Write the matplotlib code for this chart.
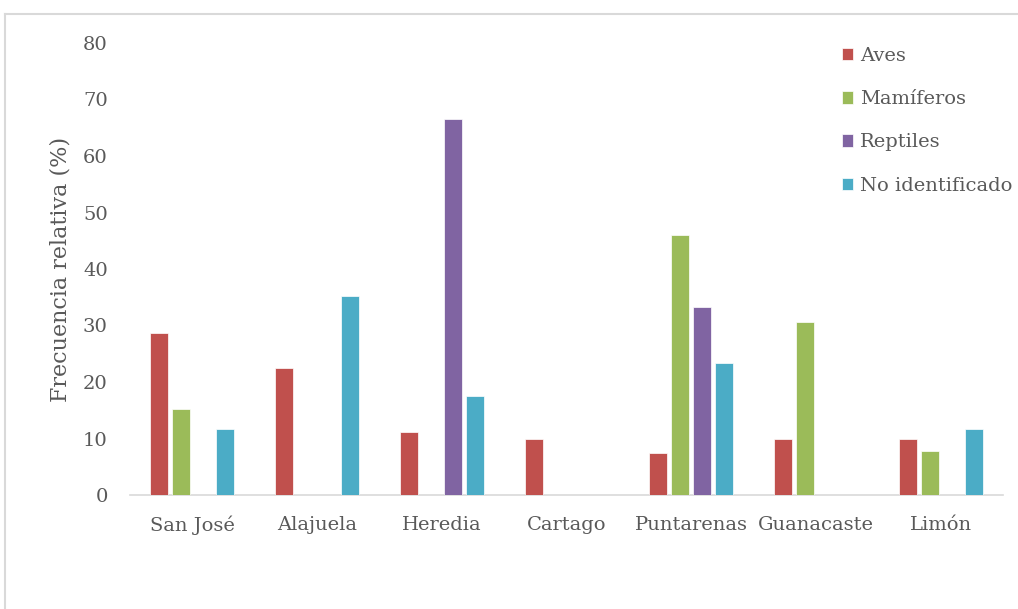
import numpy as np
import matplotlib.pyplot as plt
from matplotlib.lines import Line2D

provincias = ['San José', 'Alajuela', 'Heredia', 'Cartago', 'Puntarenas', 'Guanacaste', 'Limón']
grupos = ['Aves', 'Mamíferos', 'Reptiles', 'No identificado']
aves = [28.6, 22.4, 11.1, 10.0, 7.5, 10.0, 10.0]
mamiferos = [15.2, 0, 0, 0, 46.1, 30.6, 7.7]
reptiles = [0, 0, 66.5, 0, 33.2, 0, 0]
no_identificado = [11.6, 35.2, 17.5, 0, 23.3, 0, 11.6]
colores = ['#c0504d', '#9bbb59', '#8064a2', '#4bacc6']

plt.rcParams['font.family'] = ['DejaVu Serif']
gris = '#595959'

fig = plt.figure(figsize=(10.18, 6.09), dpi=100)
ax = fig.add_axes([130 / 1018, 1 - 495 / 609, 873 / 1018, 452 / 609])

x = np.arange(len(provincias))
paso = 0.176
ancho = 0.145
series = [aves, mamiferos, reptiles, no_identificado]
for i, (nombre, valores, color) in enumerate(zip(grupos, series, colores)):
    ax.bar(x + (i - 1.5) * paso, valores, width=ancho, color=color,
           edgecolor='white', linewidth=0.5, label=nombre, zorder=3)

ax.set_xlim(-0.5, len(provincias) - 0.5)
ax.set_ylim(0, 80)
ax.set_yticks(range(0, 81, 10))
ax.set_xticks(x)
ax.set_xticklabels(provincias)
ax.tick_params(axis='both', length=0, labelsize=14, colors=gris)
ax.tick_params(axis='y', pad=16)
ax.tick_params(axis='x', pad=15)
for lado in ['top', 'right', 'left']:
    ax.spines[lado].set_visible(False)
ax.spines['bottom'].set_color('#d9d9d9')
ax.spines['bottom'].set_linewidth(1.2)

ax.set_ylabel('Frecuencia relativa (%)', fontsize=16, color=gris, labelpad=8)

leg = ax.legend(loc='upper left', bbox_to_anchor=(0.795, 1.03), frameon=False,
                handlelength=0.6, handleheight=0.6, handletextpad=0.35,
                labelspacing=1.3, fontsize=14, labelcolor=gris)

# marco exterior gris claro (arriba e izquierda)
borde = dict(color='#d9d9d9', linewidth=1.5, transform=fig.transFigure)
fig.add_artist(Line2D([5 / 1018, 1], [1 - 14 / 609] * 2, **borde))
fig.add_artist(Line2D([5 / 1018] * 2, [0, 1 - 14 / 609], **borde))

fig.savefig('out.png', dpi=100)
